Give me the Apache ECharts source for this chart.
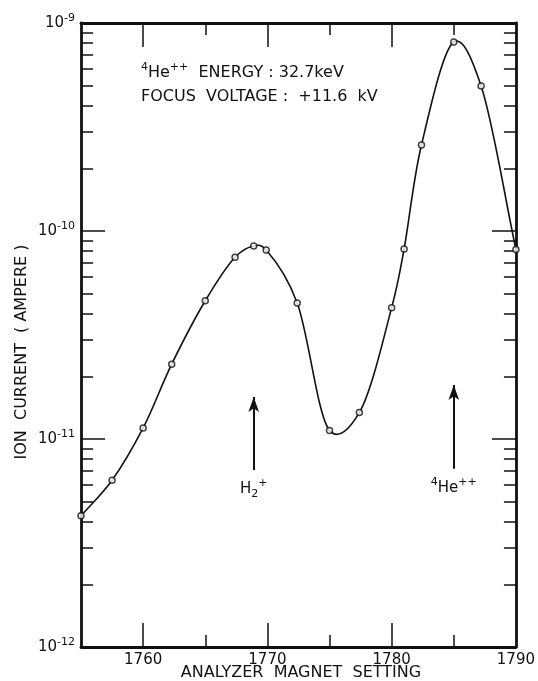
<!DOCTYPE html>
<html>
<head>
<meta charset="utf-8">
<style>
  html, body { margin: 0; padding: 0; background: #fff; }
  #chart { width: 538px; height: 681px; }
</style>
<script src="https://cdn.jsdelivr.net/npm/echarts@6/dist/echarts.min.js"></script>
</head>
<body>
<div id="chart"></div>
<script>
// analyzer magnet setting vs ion current (A)
const magnetSetting = [1755, 1757.5, 1760, 1762.3, 1765, 1767.4, 1768.9, 1769.9, 1772.4,
  1775, 1777.4, 1780, 1781, 1782.4, 1785, 1787.2, 1790];
const ionCurrent = [4.27e-12, 6.33e-12, 1.13e-11, 2.29e-11, 4.62e-11, 7.48e-11, 8.47e-11, 8.1e-11, 4.51e-11,
  1.10e-11, 1.34e-11, 4.28e-11, 8.19e-11, 2.59e-10, 8.1e-10, 4.98e-10, 8.15e-11];

const xLabelTicks = [1760, 1770, 1780, 1790];
const xMajorTicks = [1760, 1770, 1780];
const xMinorTicks = [1765, 1775, 1785];

// peak markers: H2+ and 4He++
const arrowX = [1768.9, 1785];
const arrowBottom = [7.1e-12, 7.2e-12];
const arrowTop = [1.59e-11, 1.82e-11];
const arrowLabels = ['{b|H}{sub|2}{sup|+}', '{sup|4}{b|He}{sup|++}'];

const FONT = '"DejaVu Sans", sans-serif';
const INK = '#111';

// 2..9 minor ticks per decade, in log10 space
const minorY = [];
for (let d = -12; d < -9; d++) {
  for (let k = 2; k <= 9; k++) minorY.push(d + Math.log10(k));
}

const points = magnetSetting.map((x, i) => [x, ionCurrent[i]]);

// catmull-rom through the measured points, as bezier path in pixel space
function curvePath(px, alpha) {
  const n = px.length;
  const get = (i) => {
    if (i < 0) return [2 * px[0][0] - px[1][0], 2 * px[0][1] - px[1][1]];
    if (i >= n) return [2 * px[n - 1][0] - px[n - 2][0], 2 * px[n - 1][1] - px[n - 2][1]];
    return px[i];
  };
  const dist = (a, b) => Math.pow(Math.hypot(b[0] - a[0], b[1] - a[1]), alpha) || 1e-6;
  let d = 'M' + px[0][0] + ',' + px[0][1];
  for (let i = 0; i < n - 1; i++) {
    const p0 = get(i - 1), p1 = get(i), p2 = get(i + 1), p3 = get(i + 2);
    const d1 = dist(p0, p1), d2 = dist(p1, p2), d3 = dist(p2, p3);
    const c1 = [0, 1].map((k) =>
      (d1 * d1 * p2[k] - d2 * d2 * p0[k] + (2 * d1 * d1 + 3 * d1 * d2 + d2 * d2) * p1[k]) / (3 * d1 * (d1 + d2)));
    const c2 = [0, 1].map((k) =>
      (d3 * d3 * p1[k] - d2 * d2 * p3[k] + (2 * d3 * d3 + 3 * d3 * d2 + d2 * d2) * p2[k]) / (3 * d3 * (d3 + d2)));
    d += ' C' + c1[0] + ',' + c1[1] + ' ' + c2[0] + ',' + c2[1] + ' ' + p2[0] + ',' + p2[1];
  }
  return d;
}

const chart = echarts.init(document.getElementById('chart'));

const frameLine = { show: true, lineStyle: { color: INK, width: 2.8 } };
const hidden = { show: false };
const tickLine = { color: INK, width: 1.5 };

const option = {
  backgroundColor: '#fff',
  animation: false,
  grid: { left: 81, right: 18, top: 23, bottom: 34, containLabel: false },
  xAxis: [
    {
      type: 'value', min: 1755, max: 1790, position: 'bottom',
      axisLine: frameLine,
      splitLine: hidden,
      axisTick: { inside: true, length: 24, customValues: xMajorTicks, lineStyle: tickLine },
      axisLabel: {
        customValues: xLabelTicks, margin: 6, color: INK,
        fontFamily: FONT, fontSize: 15,
        formatter: (v) => String(v)
      }
    },
    {
      type: 'value', min: 1755, max: 1790, position: 'bottom',
      axisLine: hidden, splitLine: hidden, axisLabel: hidden,
      axisTick: { inside: true, length: 12, customValues: xMinorTicks, lineStyle: tickLine }
    },
    {
      type: 'value', min: 1755, max: 1790, position: 'top',
      axisLine: frameLine, splitLine: hidden, axisLabel: hidden,
      axisTick: { inside: true, length: 24, customValues: xMajorTicks, lineStyle: tickLine }
    },
    {
      type: 'value', min: 1755, max: 1790, position: 'top',
      axisLine: hidden, splitLine: hidden, axisLabel: hidden,
      axisTick: { inside: true, length: 12, customValues: xMinorTicks, lineStyle: tickLine }
    }
  ],
  yAxis: [
    {
      type: 'log', logBase: 10, min: 1e-12, max: 1e-9, position: 'left',
      axisLine: frameLine, splitLine: hidden,
      axisTick: { inside: true, length: 24, lineStyle: tickLine },
      axisLabel: {
        margin: 6, color: INK,
        formatter: (v) => '{b|10}{s|' + Math.round(Math.log10(v)) + '}',
        rich: {
          b: { fontFamily: FONT, fontSize: 15, color: INK, lineHeight: 20 },
          s: { fontFamily: FONT, fontSize: 11, color: INK, lineHeight: 10, verticalAlign: 'top' }
        }
      }
    },
    {
      type: 'log', logBase: 10, min: 1e-12, max: 1e-9, position: 'right',
      axisLine: frameLine, splitLine: hidden, axisLabel: hidden,
      axisTick: { inside: true, length: 24, lineStyle: tickLine }
    },
    {
      type: 'value', min: -12, max: -9, position: 'left',
      axisLine: hidden, splitLine: hidden, axisLabel: hidden,
      axisTick: { inside: true, length: 12, customValues: minorY, lineStyle: tickLine }
    },
    {
      type: 'value', min: -12, max: -9, position: 'right',
      axisLine: hidden, splitLine: hidden, axisLabel: hidden,
      axisTick: { inside: true, length: 12, customValues: minorY, lineStyle: tickLine }
    }
  ],
  series: [
    {
      // smooth curve through the measurements
      type: 'custom',
      xAxisIndex: 0,
      yAxisIndex: 0,
      clip: false,
      silent: true,
      data: points,
      encode: { x: 0, y: 1 },
      renderItem: (params, api) => {
        if (params.dataIndex !== 0) return null;
        const px = points.map((p) => api.coord(p));
        return {
          type: 'path',
          shape: { pathData: curvePath(px, 0.2) },
          style: { fill: null, stroke: INK, lineWidth: 1.6 }
        };
      }
    },
    {
      type: 'scatter',
      xAxisIndex: 0,
      yAxisIndex: 0,
      clip: false,
      data: points,
      symbol: 'circle',
      symbolSize: 6,
      z: 3,
      itemStyle: { color: '#fff', borderColor: INK, borderWidth: 1.5 },
      markLine: {
        silent: true,
        symbol: ['none', 'arrow'],
        symbolSize: [8, 15],
        lineStyle: { color: INK, width: 2, type: 'solid' },
        label: {
          show: true,
          position: 'start',
          distance: 8,
          color: INK,
          rich: {
            b: { fontFamily: FONT, fontSize: 15, color: INK, lineHeight: 22 },
            sup: { fontFamily: FONT, fontSize: 11, color: INK, lineHeight: 11, verticalAlign: 'top' },
            sub: { fontFamily: FONT, fontSize: 11, color: INK, lineHeight: 11, verticalAlign: 'bottom' }
          }
        },
        data: arrowX.map((x, i) => [
          { coord: [x, arrowBottom[i]], label: { formatter: arrowLabels[i] } },
          { coord: [x, arrowTop[i]] }
        ])
      }
    }
  ],
  graphic: [
    {
      type: 'text', x: 141, y: 73,
      style: {
        text: '{sup|4}{t|He}{sup|++}{t|  ENERGY : 32.7keV}',
        textAlign: 'left', textVerticalAlign: 'middle', fill: INK,
        rich: {
          t: { fontFamily: FONT, fontSize: 16, fill: INK, lineHeight: 22 },
          sup: { fontFamily: FONT, fontSize: 11, fill: INK, lineHeight: 11, verticalAlign: 'top' }
        }
      }
    },
    {
      type: 'text', x: 141, y: 97,
      style: {
        text: 'FOCUS  VOLTAGE :  +11.6  kV',
        textAlign: 'left', textVerticalAlign: 'middle', fill: INK,
        font: '16px ' + FONT
      }
    },
    {
      type: 'text', x: 22, y: 352, rotation: Math.PI / 2,
      style: {
        text: 'ION  CURRENT  ( AMPERE )',
        textAlign: 'center', textVerticalAlign: 'middle', fill: INK,
        font: '16px ' + FONT
      }
    },
    {
      type: 'text', x: 301, y: 673,
      style: {
        text: 'ANALYZER  MAGNET  SETTING',
        textAlign: 'center', textVerticalAlign: 'middle', fill: INK,
        font: '16px ' + FONT
      }
    }
  ]
};

chart.setOption(option);
window.addEventListener('resize', () => chart.resize());
</script>
</body>
</html>
